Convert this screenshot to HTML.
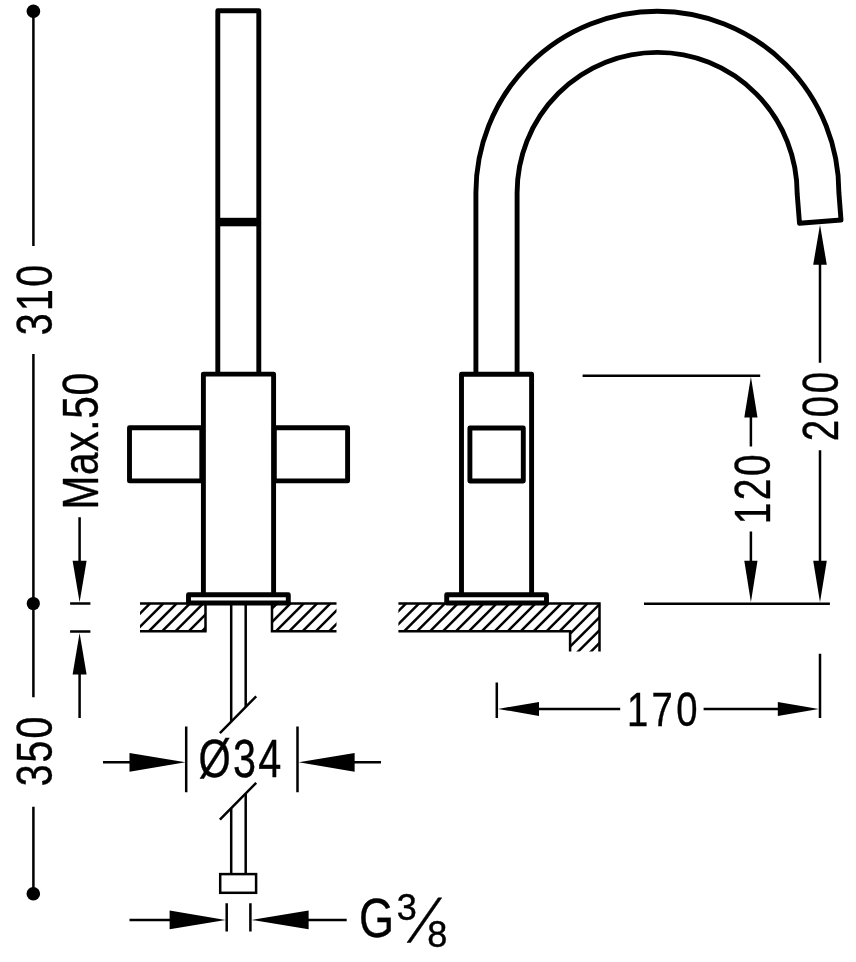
<!DOCTYPE html>
<html lang="en"><head><meta charset="utf-8"><title>Faucet dimensions</title>
<style>
html,body{margin:0;padding:0;background:#fff;}
body{width:856px;height:962px;overflow:hidden;font-family:"Liberation Sans",sans-serif;}
svg{display:block;will-change:transform;}
</style></head><body>
<svg width="856" height="962" viewBox="0 0 856 962">
<rect width="856" height="962" fill="#fff"/>
<g fill="none" stroke="#000" stroke-width="4.9" stroke-linejoin="round" stroke-linecap="butt">
<path d="M217.8 374 V10.8 H258.8 V374"/>
<path d="M203.4 594 V374.1 H273.6 V594"/>
<rect x="129.5" y="427.7" width="72.3" height="53.2"/>
<rect x="274.3" y="427.7" width="73.3" height="53.2"/>
<rect x="188.5" y="594.8" width="99.8" height="8.2"/>
<path d="M475.9 374 V192.7 A181.5 181.5 0 0 1 838.9 192.7 L841 220 L799.5 223.2 L797.2 194 A139.8 141.6 0 0 0 657.4 52.4 A140.3 140.3 0 0 0 517.1 192.7 V374"/>
<path d="M461.5 594 V374.2 H531.6 V594"/>
<rect x="469.9" y="428" width="53.4" height="53"/>
<rect x="446.7" y="594.8" width="99.8" height="8.2"/>
</g>
<rect x="217.8" y="217.8" width="41" height="8.5" fill="#000"/>
<clipPath id="h1"><path d="M140 603.6 H205.5 V631.3 H140 Z"/></clipPath>
<g clip-path="url(#h1)" stroke="#000" stroke-width="2.5" fill="none"><line x1="130.0" y1="623.5" x2="215.0" y2="538.5"/><line x1="130.0" y1="636.8" x2="215.0" y2="551.8"/><line x1="130.0" y1="650.1" x2="215.0" y2="565.1"/><line x1="130.0" y1="663.4" x2="215.0" y2="578.4"/><line x1="130.0" y1="676.7" x2="215.0" y2="591.7"/><line x1="130.0" y1="690.0" x2="215.0" y2="605.0"/><line x1="130.0" y1="703.3" x2="215.0" y2="618.3"/><line x1="130.0" y1="716.6" x2="215.0" y2="631.6"/></g>

<clipPath id="h2"><path d="M272 603.6 H336.5 V631.3 H272 Z"/></clipPath>
<g clip-path="url(#h2)" stroke="#000" stroke-width="2.5" fill="none"><line x1="262.0" y1="618.6" x2="345.0" y2="535.6"/><line x1="262.0" y1="631.9" x2="345.0" y2="548.9"/><line x1="262.0" y1="645.2" x2="345.0" y2="562.2"/><line x1="262.0" y1="658.5" x2="345.0" y2="575.5"/><line x1="262.0" y1="671.8" x2="345.0" y2="588.8"/><line x1="262.0" y1="685.1" x2="345.0" y2="602.1"/><line x1="262.0" y1="698.4" x2="345.0" y2="615.4"/><line x1="262.0" y1="711.7" x2="345.0" y2="628.7"/></g>

<clipPath id="h3"><path d="M398.4 603.6 H599.5 V651.6 H570.1 V631.3 H398.4 Z"/></clipPath>
<g clip-path="url(#h3)" stroke="#000" stroke-width="2.5" fill="none"><line x1="390.0" y1="619.5" x2="610.0" y2="399.5"/><line x1="390.0" y1="632.5" x2="610.0" y2="412.5"/><line x1="390.0" y1="645.4" x2="610.0" y2="425.4"/><line x1="390.0" y1="658.3" x2="610.0" y2="438.3"/><line x1="390.0" y1="671.3" x2="610.0" y2="451.3"/><line x1="390.0" y1="684.2" x2="610.0" y2="464.2"/><line x1="390.0" y1="697.2" x2="610.0" y2="477.2"/><line x1="390.0" y1="710.2" x2="610.0" y2="490.2"/><line x1="390.0" y1="723.1" x2="610.0" y2="503.1"/><line x1="390.0" y1="736.0" x2="610.0" y2="516.0"/><line x1="390.0" y1="749.0" x2="610.0" y2="529.0"/><line x1="390.0" y1="762.0" x2="610.0" y2="542.0"/><line x1="390.0" y1="774.9" x2="610.0" y2="554.9"/><line x1="390.0" y1="787.8" x2="610.0" y2="567.8"/><line x1="390.0" y1="800.8" x2="610.0" y2="580.8"/><line x1="390.0" y1="813.8" x2="610.0" y2="593.8"/><line x1="390.0" y1="826.7" x2="610.0" y2="606.7"/><line x1="390.0" y1="839.7" x2="610.0" y2="619.7"/><line x1="390.0" y1="852.6" x2="610.0" y2="632.6"/><line x1="390.0" y1="865.5" x2="610.0" y2="645.5"/></g>

<g fill="none" stroke="#000" stroke-width="2.5" stroke-linecap="butt">
<path d="M140 603.6 H188 M140 631.3 H206.7 M205.5 605 V631.3"/>
<path d="M289 603.6 H336.5 M270.8 631.3 H336.5 M272 605 V631.3"/>
<path d="M398.4 603.6 H446 M547 603.6 H600.7 M599.5 603.6 V651.6 M398.4 631.3 H571.3 M570.1 631.3 V651.6"/>
<path d="M231.2 605 V721.7 M245.7 605 V707 M231.2 808.2 V873 M245.7 793.5 V873"/>
<path d="M219.9 733.2 L256.2 696.3 M219.9 819.7 L256.2 782.8"/>
<rect x="220.2" y="874.1" width="35.9" height="18.7"/>
<path d="M226.7 903.2 V931.4 M250.4 903.2 V931.4"/>
<path d="M129.5 919.9 H172 M306 919.9 H346.7"/>
<path d="M186.2 726.5 V792.2 M297.5 726.5 V792.2"/>
<path d="M103 762.3 H132 M352 762.3 H381"/>
<path d="M33.4 11.2 V246 M33.4 354 V697.3 M33.4 806.7 V893.8"/>
<path d="M79.6 517.3 V563 M79.6 672 V718 M70.1 603.5 H90.4 M70.1 631.6 H90.4"/>
<path d="M582.6 375.7 H760.2 M644 603.7 H829.9"/>
<path d="M750.9 415 V446.6 M750.9 531.6 V563"/>
<path d="M820 262 V362.8 M820 450.3 V563"/>
<path d="M496.8 682.6 V717.9 M820 653.8 V717.9"/>
<path d="M536 708.9 H620.2 M703.6 708.9 H780"/>
</g>
<g fill="#000" stroke="none">
<circle cx="33.4" cy="11.2" r="6.8"/>
<circle cx="33.3" cy="603.5" r="6.6"/>
<circle cx="33.3" cy="893.8" r="6.8"/>
<polygon points="185.5,762.3 129.5,771.7 129.5,752.9"/>
<polygon points="298.6,762.3 354.6,752.9 354.6,771.7"/>
<polygon points="225.6,919.9 169.6,929.3 169.6,910.5"/>
<polygon points="251.6,919.9 308.6,910.5 308.6,929.3"/>
<polygon points="79.6,602.2 72.6,560.7 86.6,560.7"/>
<polygon points="79.6,633.0 86.6,674.5 72.6,674.5"/>
<polygon points="750.9,376.8 757.5,417.5 744.3,417.5"/>
<polygon points="750.9,602.2 744.3,560.7 757.5,560.7"/>
<polygon points="820.0,224.8 826.8,264.8 813.2,264.8"/>
<polygon points="820.0,602.2 813.2,560.7 826.8,560.7"/>
<polygon points="498.0,708.9 539.0,701.9 539.0,715.9"/>
<polygon points="818.8,708.9 777.8,715.9 777.8,701.9"/>
</g>
<g fill="#000" stroke="#000" stroke-width="0.4">
<text font-family="'Liberation Sans', sans-serif" font-size="49.8" letter-spacing="3.00" transform="translate(52.2 335.3) rotate(-90) scale(0.790 1)">310</text>
<text font-family="'Liberation Sans', sans-serif" font-size="50.8" letter-spacing="0.80" transform="translate(98.0 509.4) rotate(-90) scale(0.800 1)">Max.50</text>
<text font-family="'Liberation Sans', sans-serif" font-size="49.6" letter-spacing="2.60" transform="translate(52.1 786.3) rotate(-90) scale(0.790 1)">350</text>
<text font-family="'Liberation Sans', sans-serif" font-size="53.8" letter-spacing="2.80" transform="translate(198.6 777.3) scale(0.770 1)">Ø34</text>
<text font-family="'Liberation Sans', sans-serif" font-size="55.0" letter-spacing="0.00" transform="translate(359.0 937.2) scale(0.820 1)">G</text>
<text font-family="'Liberation Sans', sans-serif" font-size="36.8" letter-spacing="0.00" transform="translate(396.7 919.5) scale(0.980 1)">3</text>
<text font-family="'Liberation Sans', sans-serif" font-size="36.8" letter-spacing="0.00" transform="translate(427.2 946.5) scale(0.980 1)">8</text>
<text font-family="'Liberation Sans', sans-serif" font-size="47.2" transform="matrix(1 0 -0.625 1.29 407.2 942.3)">/</text>
<text font-family="'Liberation Sans', sans-serif" font-size="47.8" letter-spacing="4.20" transform="translate(627.0 726.0) scale(0.800 1)">170</text>
<text font-family="'Liberation Sans', sans-serif" font-size="49.8" letter-spacing="3.30" transform="translate(769.9 524.3) rotate(-90) scale(0.780 1)">120</text>
<text font-family="'Liberation Sans', sans-serif" font-size="49.8" letter-spacing="3.50" transform="translate(838.0 441.2) rotate(-90) scale(0.770 1)">200</text>
</g>
</svg>
</body></html>
